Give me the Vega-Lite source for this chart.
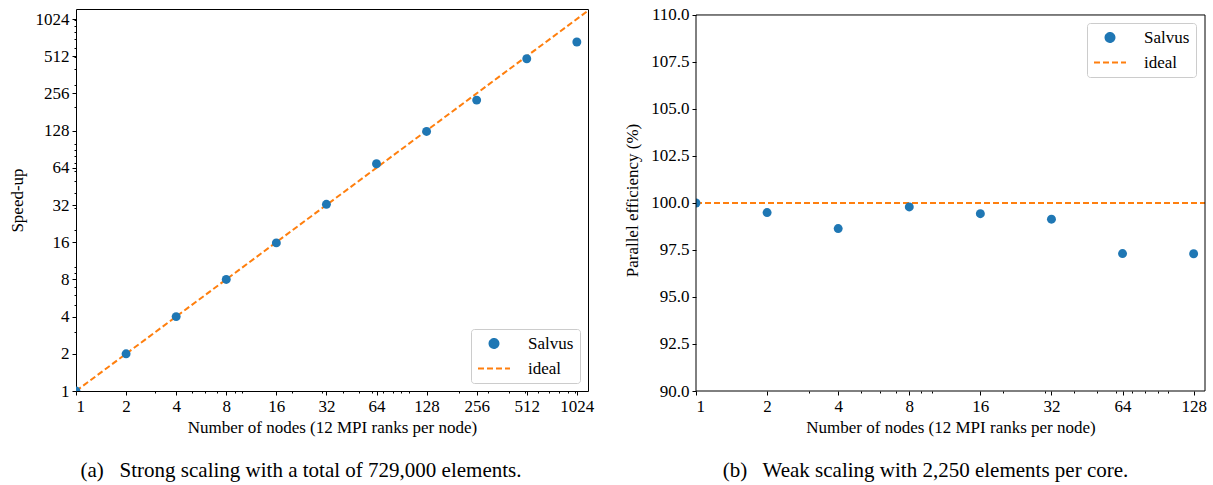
{
  "$schema": "https://vega.github.io/schema/vega-lite/v6.json",
  "padding": {"left": 7, "top": 5, "right": 0, "bottom": 0},
  "background": "white",
  "spacing": 28,
  "datasets": {
    "strong": [
      {"nodes": 1, "speedup": 1, "series": "Salvus"},
      {"nodes": 2, "speedup": 2, "series": "Salvus"},
      {"nodes": 4, "speedup": 4, "series": "Salvus"},
      {"nodes": 8, "speedup": 8, "series": "Salvus"},
      {"nodes": 16, "speedup": 15.8, "series": "Salvus"},
      {"nodes": 32, "speedup": 32.4, "series": "Salvus"},
      {"nodes": 64, "speedup": 69, "series": "Salvus"},
      {"nodes": 128, "speedup": 126, "series": "Salvus"},
      {"nodes": 256, "speedup": 226, "series": "Salvus"},
      {"nodes": 512, "speedup": 488, "series": "Salvus"},
      {"nodes": 1024, "speedup": 667, "series": "Salvus"}
    ],
    "strongIdeal": [
      {"nodes": 1, "speedup": 1, "series": "ideal"},
      {"nodes": 1300, "speedup": 1300, "series": "ideal"}
    ],
    "weak": [
      {"nodes": 1, "efficiency": 100.0, "series": "Salvus"},
      {"nodes": 2, "efficiency": 99.49, "series": "Salvus"},
      {"nodes": 4, "efficiency": 98.64, "series": "Salvus"},
      {"nodes": 8, "efficiency": 99.79, "series": "Salvus"},
      {"nodes": 16, "efficiency": 99.43, "series": "Salvus"},
      {"nodes": 32, "efficiency": 99.14, "series": "Salvus"},
      {"nodes": 64, "efficiency": 97.31, "series": "Salvus"},
      {"nodes": 128, "efficiency": 97.3, "series": "Salvus"}
    ],
    "weakIdeal": [
      {"nodes": 1, "efficiency": 100, "series": "ideal"},
      {"nodes": 200, "efficiency": 100, "series": "ideal"}
    ],
    "frame": [{}]
  },
  "config": {
    "font": "Liberation Serif",
    "view": {"stroke": "black", "strokeWidth": 1},
    "axis": {
      "domain": false,
      "grid": false,
      "ticks": true,
      "tickColor": "black",
      "tickSize": 4,
      "tickWidth": 1,
      "labelColor": "black",
      "labelFont": "Liberation Serif",
      "labelFontSize": 17,
      "labelPadding": 3,
      "titleColor": "black",
      "titleFont": "Liberation Serif",
      "titleFontSize": 17,
      "titleFontWeight": "normal"
    },
    "legend": {
      "labelFont": "Liberation Serif",
      "labelFontSize": 17,
      "labelColor": "black",
      "fillColor": "rgba(255,255,255,0.8)",
      "strokeColor": "#cccccc",
      "cornerRadius": 3,
      "padding": 6,
      "symbolSize": 1024,
      "clipHeight": 17,
      "labelOffset": 17,
      "rowPadding": 7,
      "offset": 8
    },
    "title": {"font": "Liberation Serif", "fontWeight": "normal", "color": "black"}
  },
  "resolve": {"scale": {"color": "independent"}, "legend": {"color": "independent"}},
  "hconcat": [
    {
      "width": 512,
      "height": 382,
      "title": {"text": "(a)\u00a0\u00a0 Strong scaling with a total of 729,000 elements.", "orient": "bottom", "anchor": "middle", "dx": -31, "offset": 25, "fontSize": 21},
      "resolve": {"axis": {"x": "independent", "y": "independent"}},
      "layer": [
        {
          "data": {"name": "strongIdeal"},
          "mark": {"type": "line", "strokeDash": [6, 3], "strokeWidth": 2, "clip": true},
          "encoding": {
            "x": {"field": "nodes", "type": "quantitative", "scale": {"type": "log", "base": 2, "domain": [1, 1195], "nice": false},
                  "axis": {"orient": "bottom", "values": [1, 2, 4, 8, 16, 32, 64, 128, 256, 512, 1024], "format": "d", "title": "Number of nodes (12 MPI ranks per node)", "titlePadding": 5}},
            "y": {"field": "speedup", "type": "quantitative", "scale": {"type": "log", "base": 2, "domain": [1, 1234], "nice": false},
                  "axis": {"orient": "left", "values": [1, 2, 4, 8, 16, 32, 64, 128, 256, 512, 1024], "format": "d", "title": "Speed-up", "titlePadding": 9}},
            "color": {"field": "series", "type": "nominal", "scale": {"domain": ["Salvus", "ideal"], "range": ["#1f77b4", "#ff7f0e"]},
                      "legend": {"title": null, "orient": "bottom-right",
                                 "encode": {"symbols": {"update": {
                                   "shape": {"signal": "datum.value === 'Salvus' ? 'circle' : 'stroke'"},
                                   "size": {"signal": "datum.value === 'Salvus' ? 80 : 1024"},
                                   "fill": {"signal": "datum.value === 'Salvus' ? '#1f77b4' : 'transparent'"},
                                   "stroke": {"signal": "datum.value === 'Salvus' ? 'transparent' : '#ff7f0e'"},
                                   "strokeWidth": {"value": 2},
                                   "strokeDash": {"signal": "datum.value === 'Salvus' ? [1, 0] : [6, 3]"},
                                   "opacity": {"value": 1}
                                 }}}}}
          }
        },
        {
          "data": {"name": "strong"},
          "mark": {"type": "point", "filled": true, "size": 80, "opacity": 1, "clip": true},
          "encoding": {
            "x": {"field": "nodes", "type": "quantitative", "axis": null},
            "y": {"field": "speedup", "type": "quantitative", "axis": null},
            "color": {"field": "series", "type": "nominal"}
          }
        },
        {
          "data": {"name": "strong"},
          "mark": {"type": "point", "opacity": 0},
          "encoding": {
            "x": {"field": "nodes", "type": "quantitative",
                  "axis": {"orient": "bottom", "values": [3, 5, 6, 7, 9, 10, 20, 30, 40, 50, 60, 70, 80, 90, 100, 200, 300, 400, 500, 600, 700, 800, 900, 1000], "labels": false, "tickSize": 2, "title": null}},
            "y": {"field": "speedup", "type": "quantitative",
                  "axis": {"orient": "left", "values": [3, 5, 6, 7, 9, 10, 20, 30, 40, 50, 60, 70, 80, 90, 100, 200, 300, 400, 500, 600, 700, 800, 900, 1000], "labels": false, "tickSize": 2, "title": null}}
          }
        }
      ]
    },
    {
      "width": 509,
      "height": 382,
      "view": {"stroke": null},
      "title": {"text": "(b)\u00a0\u00a0 Weak scaling with 2,250 elements per core.", "orient": "bottom", "anchor": "middle", "dx": -25, "offset": 25, "fontSize": 21},
      "resolve": {"axis": {"x": "independent"}},
      "layer": [
        {
          "data": {"name": "weakIdeal"},
          "mark": {"type": "line", "strokeDash": [6, 3], "strokeWidth": 2, "clip": true},
          "encoding": {
            "x": {"field": "nodes", "type": "quantitative", "scale": {"type": "log", "base": 2, "domain": [1, 143], "nice": false},
                  "axis": {"orient": "bottom", "values": [1, 2, 4, 8, 16, 32, 64, 128], "format": "d", "title": "Number of nodes (12 MPI ranks per node)", "titlePadding": 5}},
            "y": {"field": "efficiency", "type": "quantitative", "scale": {"domain": [90, 110.318], "nice": false, "zero": false},
                  "axis": {"orient": "left", "values": [90, 92.5, 95, 97.5, 100, 102.5, 105, 107.5, 110], "format": ".1f", "title": "Parallel efficiency (%)", "titlePadding": 9}},
            "color": {"field": "series", "type": "nominal", "scale": {"domain": ["Salvus", "ideal"], "range": ["#1f77b4", "#ff7f0e"]},
                      "legend": {"title": null, "orient": "none", "legendX": 391, "legendY": 14,
                                 "encode": {"symbols": {"update": {
                                   "shape": {"signal": "datum.value === 'Salvus' ? 'circle' : 'stroke'"},
                                   "size": {"signal": "datum.value === 'Salvus' ? 80 : 1024"},
                                   "fill": {"signal": "datum.value === 'Salvus' ? '#1f77b4' : 'transparent'"},
                                   "stroke": {"signal": "datum.value === 'Salvus' ? 'transparent' : '#ff7f0e'"},
                                   "strokeWidth": {"value": 2},
                                   "strokeDash": {"signal": "datum.value === 'Salvus' ? [1, 0] : [6, 3]"},
                                   "opacity": {"value": 1}
                                 }}}}}
          }
        },
        {
          "data": {"name": "weak"},
          "mark": {"type": "point", "filled": true, "size": 80, "opacity": 1, "clip": true},
          "encoding": {
            "x": {"field": "nodes", "type": "quantitative", "axis": null},
            "y": {"field": "efficiency", "type": "quantitative"},
            "color": {"field": "series", "type": "nominal"}
          }
        },
        {
          "data": {"name": "weak"},
          "mark": {"type": "point", "opacity": 0},
          "encoding": {
            "x": {"field": "nodes", "type": "quantitative",
                  "axis": {"orient": "bottom", "values": [3, 5, 6, 7, 9, 10, 20, 30, 40, 50, 60, 70, 80, 90, 100], "labels": false, "tickSize": 2, "title": null}},
            "y": {"field": "efficiency", "type": "quantitative"}
          }
        },
        {
          "data": {"name": "frame"},
          "mark": {"type": "rule", "color": "black", "strokeWidth": 1},
          "encoding": {"y": {"datum": 110, "type": "quantitative"}}
        },
        {
          "data": {"name": "frame"},
          "mark": {"type": "rule", "color": "black", "strokeWidth": 1},
          "encoding": {"y": {"datum": 90, "type": "quantitative"}}
        },
        {
          "data": {"name": "frame"},
          "mark": {"type": "rule", "color": "black", "strokeWidth": 1},
          "encoding": {"x": {"datum": 1, "type": "quantitative", "axis": null}, "y": {"datum": 90, "type": "quantitative"}, "y2": {"datum": 110}}
        },
        {
          "data": {"name": "frame"},
          "mark": {"type": "rule", "color": "black", "strokeWidth": 1},
          "encoding": {"x": {"datum": 143, "type": "quantitative", "axis": null}, "y": {"datum": 90, "type": "quantitative"}, "y2": {"datum": 110}}
        }
      ]
    }
  ]
}
